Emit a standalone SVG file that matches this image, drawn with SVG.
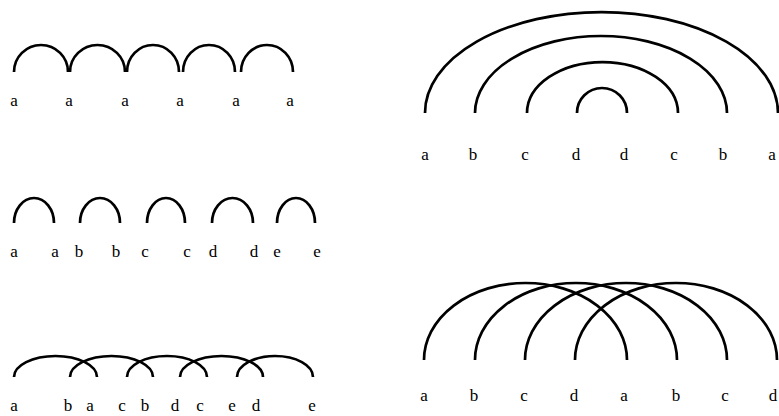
<svg xmlns="http://www.w3.org/2000/svg" width="779" height="416" viewBox="0 0 779 416">
<style>
.arc{fill:none;stroke:#000;stroke-width:2.7;stroke-linecap:butt}
.lb{font-family:"Liberation Serif","Times New Roman",serif;font-size:17px;fill:#000;text-anchor:middle}
</style>
<rect width="779" height="416" fill="#fff"/>
<g id="panel-top-left">
<path class="arc" d="M14 72 A27 27 0 0 1 68 72"/>
<path class="arc" d="M70 72 A27.5 27 0 0 1 125 72"/>
<path class="arc" d="M127 72 A26 27 0 0 1 179 72"/>
<path class="arc" d="M183 72 A26 27 0 0 1 235 72"/>
<path class="arc" d="M241 72 A26 27 0 0 1 293 72"/>
<text class="lb" x="14" y="106">a</text>
<text class="lb" x="69" y="106">a</text>
<text class="lb" x="125" y="106">a</text>
<text class="lb" x="180" y="106">a</text>
<text class="lb" x="236" y="106">a</text>
<text class="lb" x="290" y="106">a</text>
</g>
<g id="panel-mid-left">
<path class="arc" d="M14 223 A20 25 0 0 1 54 223"/>
<path class="arc" d="M80 223 A20 25 0 0 1 120 223"/>
<path class="arc" d="M147 223 A19 25 0 0 1 185 223"/>
<path class="arc" d="M212 223 A20.5 25 0 0 1 253 223"/>
<path class="arc" d="M277 223 A19 25 0 0 1 315 223"/>
<text class="lb" x="14" y="257">a</text>
<text class="lb" x="55" y="257">a</text>
<text class="lb" x="79" y="257">b</text>
<text class="lb" x="116" y="257">b</text>
<text class="lb" x="145" y="257">c</text>
<text class="lb" x="187" y="257">c</text>
<text class="lb" x="213" y="257">d</text>
<text class="lb" x="254" y="257">d</text>
<text class="lb" x="277" y="257">e</text>
<text class="lb" x="317" y="257">e</text>
</g>
<g id="panel-bottom-left">
<path class="arc" d="M14 377 A41.5 21 0 0 1 97 377"/>
<path class="arc" d="M70 377 A41.5 21 0 0 1 153 377"/>
<path class="arc" d="M127 377 A40 21 0 0 1 207 377"/>
<path class="arc" d="M180 377 A41.5 21 0 0 1 263 377"/>
<path class="arc" d="M237 377 A38 21 0 0 1 313 377"/>
<text class="lb" x="14" y="411">a</text>
<text class="lb" x="68" y="411">b</text>
<text class="lb" x="90" y="411">a</text>
<text class="lb" x="122" y="411">c</text>
<text class="lb" x="145" y="411">b</text>
<text class="lb" x="175" y="411">d</text>
<text class="lb" x="200" y="411">c</text>
<text class="lb" x="232" y="411">e</text>
<text class="lb" x="256" y="411">d</text>
<text class="lb" x="312" y="411">e</text>
</g>
<g id="panel-top-right">
<path class="arc" d="M425 113 A176.5 101 0 0 1 778 113"/>
<path class="arc" d="M475 113 A126 77 0 0 1 727 113"/>
<path class="arc" d="M527 113 A75.5 51 0 0 1 678 113"/>
<path class="arc" d="M577 113 A25 25 0 0 1 627 113"/>
<text class="lb" x="425" y="160">a</text>
<text class="lb" x="473" y="160">b</text>
<text class="lb" x="525" y="160">c</text>
<text class="lb" x="576" y="160">d</text>
<text class="lb" x="624" y="160">d</text>
<text class="lb" x="674" y="160">c</text>
<text class="lb" x="723" y="160">b</text>
<text class="lb" x="772" y="160">a</text>
</g>
<g id="panel-bottom-right">
<path class="arc" d="M424 360 A101.5 77 0 0 1 627 360"/>
<path class="arc" d="M475 360 A101 77 0 0 1 677 360"/>
<path class="arc" d="M525 360 A101 77 0 0 1 727 360"/>
<path class="arc" d="M575 360 A101 77 0 0 1 777 360"/>
<text class="lb" x="424" y="401">a</text>
<text class="lb" x="474" y="401">b</text>
<text class="lb" x="524" y="401">c</text>
<text class="lb" x="574" y="401">d</text>
<text class="lb" x="624" y="401">a</text>
<text class="lb" x="676" y="401">b</text>
<text class="lb" x="725" y="401">c</text>
<text class="lb" x="773" y="401">d</text>
</g>
</svg>
